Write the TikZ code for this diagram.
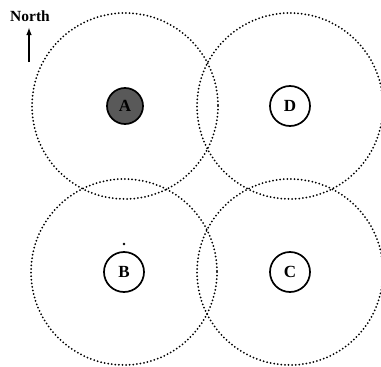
\documentclass[tikz,border=0pt]{standalone}
\usepackage{fontspec}
\setmainfont{Liberation Serif}
\usetikzlibrary{arrows.meta}
\begin{document}
\begin{tikzpicture}[x=1pt,y=-1pt,
  rangecircle/.style={draw, line width=2pt, dash pattern=on 0pt off 3.6pt, line cap=round},
  station/.style={circle, draw, line width=1.7pt, minimum size=40pt, inner sep=0pt, font=\bfseries\fontsize{17}{17}\selectfont},
  source/.style={circle, draw, line width=1.7pt, minimum size=36pt, inner sep=0pt, fill=black!65, font=\bfseries\fontsize{17}{17}\selectfont}]
\useasboundingbox (0,0) rectangle (381,367);
\node[source] (A) at (125,106) {A};
\node[station] (D) at (290,106) {D};
\node[station] (B) at (124,272) {B};
\node[station] (C) at (290,272) {C};
\draw[rangecircle] (A) circle[radius=93];
\draw[rangecircle] (D) circle[radius=93];
\draw[rangecircle] (B) circle[radius=93];
\draw[rangecircle] (C) circle[radius=93];
\fill (124,244) circle[radius=1.3];
\node[font=\bfseries\fontsize{15.5}{15.5}\selectfont, inner sep=0pt] (N) at (30,16) {North};
\coordinate (n1) at (29,62);
\coordinate (n2) at (29,27);
\draw[line width=1.6pt, -{Latex[length=8pt,width=5.5pt]}] (n1) -- (n2);
\end{tikzpicture}
\end{document}
